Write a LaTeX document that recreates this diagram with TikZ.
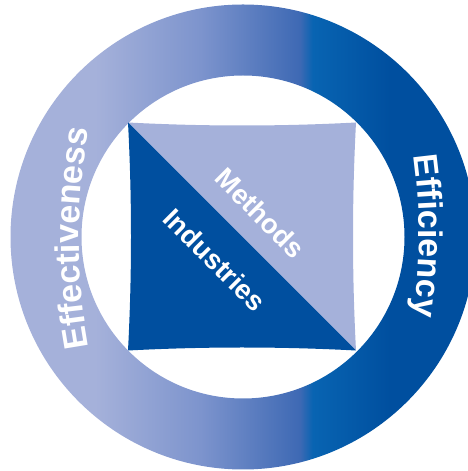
\documentclass[tikz,border=0pt]{standalone}
\usepackage{fontspec}
\setmainfont{Liberation Sans}
\usetikzlibrary{decorations.text}

\definecolor{lightblue}{RGB}{165,177,218}
\definecolor{midlight}{RGB}{125,148,205}
\definecolor{midblue}{RGB}{62,105,180}
\definecolor{brightblue}{RGB}{8,100,178}
\definecolor{darkblue}{RGB}{0,79,159}

\pgfdeclarehorizontalshading{ringshade}{100bp}{color(0bp)=(lightblue); color(34.1bp)=(lightblue); color(45.4bp)=(midlight); color(56.1bp)=(midblue); color(57.5bp)=(brightblue); color(65.8bp)=(darkblue); color(100bp)=(darkblue)}

\tikzstyle{ring} = [shading=ringshade, even odd rule]
\tikzstyle{innertext} = [text=white, font=\bfseries\fontsize{27.5}{27.5}\selectfont, inner sep=0pt]
\tikzstyle{ringtext} = [decorate, decoration={text along path, text align=center}]

\begin{document}
\begin{tikzpicture}[x=1pt, y=1pt]

	\useasboundingbox (0,0) rectangle (468,471);
	\clip (0,0) rectangle (468,471);

	\coordinate (c) at (243,234);
	\coordinate (tl) at (128,348.5);
	\coordinate (tr) at (356,348.5);
	\coordinate (bl) at (128,120.5);
	\coordinate (br) at (356,120.5);

	% ring
	\shade [ring] (c) circle[radius=232.5] (c) circle[radius=161.5];

	% square, split on the diagonal
	\fill [lightblue] (tl) .. controls +(76,-4) and +(-76,-4) .. (tr)
		.. controls +(-4,-76) and +(-4,76) .. (br) -- cycle;
	\fill [darkblue] (tl) .. controls +(4,-76) and +(4,76) .. (bl)
		.. controls +(76,4) and +(-76,4) .. (br) -- cycle;

	\node (methods) [innertext, rotate=-45] at (260,258) {Methods};
	\node (industries) [innertext, rotate=-45] at (215,211) {Industries};

	% labels on the ring
	\coordinate (effc) at (679,233);
	\coordinate (efic) at (-181,235);
	\path [ringtext, decoration={text={|\color{white}\bfseries\fontsize{34}{34}\selectfont|Effectiveness}}]
		(effc) ++(195:600) arc[start angle=195, end angle=165, radius=600];
	\path [ringtext, decoration={text={|\color{white}\bfseries\fontsize{34}{34}\selectfont|Efficiency}}]
		(efic) ++(12:600) arc[start angle=12, end angle=-12, radius=600];

\end{tikzpicture}
\end{document}
